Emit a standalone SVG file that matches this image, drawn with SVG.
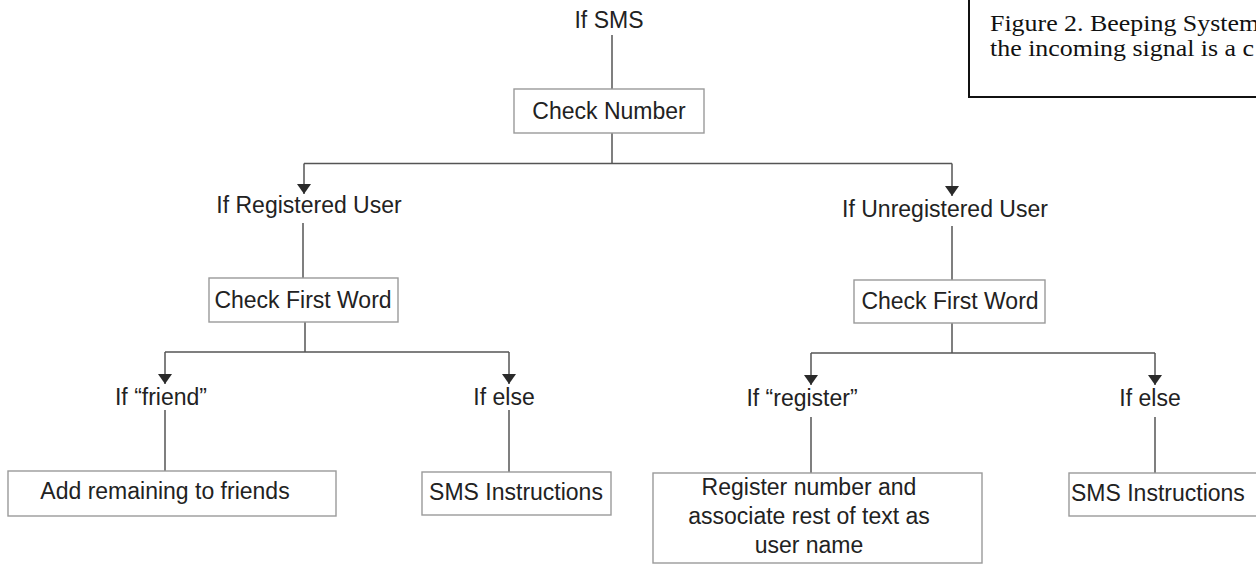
<svg xmlns="http://www.w3.org/2000/svg" width="1256" height="565" viewBox="0 0 1256 565">
<style>
.lbl{font-family:"Liberation Sans",Arial,sans-serif;font-size:23px;fill:#222;text-anchor:middle}
.box{fill:#fff;stroke:#9a9a9a;stroke-width:1.4}
.con{fill:none;stroke:#555;stroke-width:1.5}
.cap{font-family:"Liberation Serif","Times New Roman",serif;font-size:24px;fill:#111}
</style>
<defs>
<marker id="arr" viewBox="0 0 10 14" refX="10" refY="7" markerWidth="10" markerHeight="14" markerUnits="userSpaceOnUse" orient="auto">
<path d="M0,0 L10,7 L0,14 Z" fill="#2a2a2a"/>
</marker>
</defs>
<rect width="1256" height="565" fill="#fff"/>

<g id="connectors">
<path class="con" d="M612,35 V89"/>
<path class="con" d="M612,133 V163.5 M304,163.5 H952"/>
<path class="con" d="M304,163.5 V194" marker-end="url(#arr)"/>
<path class="con" d="M952,163.5 V196" marker-end="url(#arr)"/>
<path class="con" d="M303,223 V278"/>
<path class="con" d="M305,322 V352 M165,352 H509"/>
<path class="con" d="M165,352 V384" marker-end="url(#arr)"/>
<path class="con" d="M509,352 V384" marker-end="url(#arr)"/>
<path class="con" d="M165,410 V471"/>
<path class="con" d="M509,410 V472"/>
<path class="con" d="M952,226 V280"/>
<path class="con" d="M952,323 V353 M811,353 H1155"/>
<path class="con" d="M811,353 V385" marker-end="url(#arr)"/>
<path class="con" d="M1155,353 V385" marker-end="url(#arr)"/>
<path class="con" d="M811,417 V473"/>
<path class="con" d="M1155,417 V473"/>
</g>

<g id="if-sms"><text class="lbl" x="609" y="28">If SMS</text></g>
<g id="check-number"><rect class="box" x="514" y="89" width="190" height="44"/><text class="lbl" x="609" y="119">Check Number</text></g>

<g id="if-registered"><text class="lbl" x="309" y="213">If Registered User</text></g>
<g id="check-first-word-reg"><rect class="box" x="209" y="278" width="189" height="44"/><text class="lbl" x="303" y="308">Check First Word</text></g>

<g id="if-unregistered"><text class="lbl" x="945" y="217">If Unregistered User</text></g>
<g id="check-first-word-unreg"><rect class="box" x="854" y="280" width="191" height="43"/><text class="lbl" x="950" y="309">Check First Word</text></g>

<g id="if-friend"><text class="lbl" x="161" y="405">If “friend”</text></g>
<g id="if-else-reg"><text class="lbl" x="504" y="405">If else</text></g>
<g id="add-friends"><rect class="box" x="8" y="471" width="328" height="45"/><text class="lbl" x="165" y="499">Add remaining to friends</text></g>
<g id="sms-instructions-reg"><rect class="box" x="422" y="472" width="189" height="43"/><text class="lbl" x="516" y="500">SMS Instructions</text></g>

<g id="if-register"><text class="lbl" x="802" y="406">If “register”</text></g>
<g id="if-else-unreg"><text class="lbl" x="1150" y="406">If else</text></g>
<g id="register-number"><rect class="box" x="653" y="473" width="329" height="90"/>
<text class="lbl" x="809" y="495">Register number and</text>
<text class="lbl" x="809" y="524">associate rest of text as</text>
<text class="lbl" x="809" y="553">user name</text></g>
<g id="sms-instructions-unreg"><rect class="box" x="1069" y="473" width="200" height="43"/><text class="lbl" x="1071" y="501" style="text-anchor:start">SMS Instructions</text></g>

<g id="caption">
<rect x="969" y="-5" width="300" height="102" fill="#fff" stroke="#111" stroke-width="2"/>
<g transform="translate(990,0) scale(1.08,1)">
<text class="cap" x="0" y="31">Figure 2. Beeping System</text>
<text class="cap" x="0" y="56">the incoming signal is a c</text>
</g>
</g>
</svg>
